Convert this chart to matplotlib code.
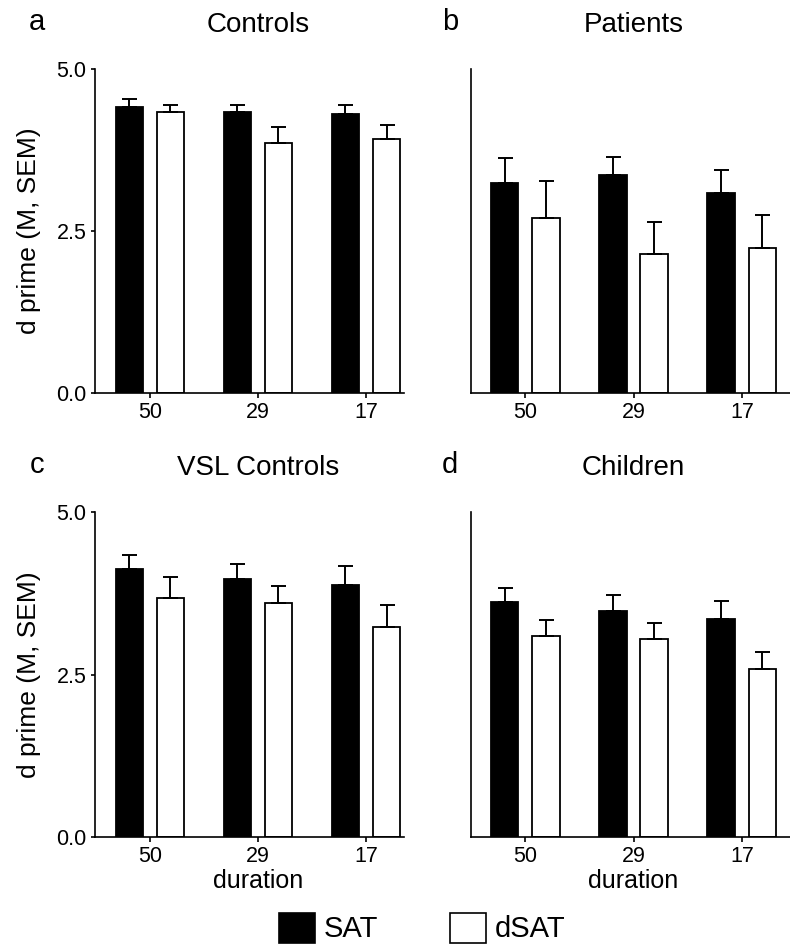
import matplotlib
matplotlib.use("Agg")
import matplotlib.pyplot as plt
import numpy as np
from matplotlib.patches import Patch

plt.rcParams['font.family'] = ['Liberation Sans', 'DejaVu Sans']

durations = ["50", "29", "17"]
series = ["SAT", "dSAT"]
panel_titles = ["Controls", "Patients", "VSL Controls", "Children"]
panel_letters = ["a", "b", "c", "d"]

controls_sat = [4.41, 4.33, 4.31]
controls_sat_sem = [0.12, 0.11, 0.13]
controls_dsat = [4.33, 3.86, 3.92]
controls_dsat_sem = [0.12, 0.24, 0.21]

patients_sat = [3.24, 3.37, 3.08]
patients_sat_sem = [0.38, 0.27, 0.36]
patients_dsat = [2.70, 2.15, 2.23]
patients_dsat_sem = [0.57, 0.49, 0.51]

vsl_sat = [4.12, 3.97, 3.88]
vsl_sat_sem = [0.22, 0.23, 0.29]
vsl_dsat = [3.68, 3.60, 3.23]
vsl_dsat_sem = [0.32, 0.26, 0.34]

children_sat = [3.61, 3.47, 3.36]
children_sat_sem = [0.22, 0.25, 0.27]
children_dsat = [3.09, 3.04, 2.58]
children_dsat_sem = [0.25, 0.25, 0.27]

data = [
    (controls_sat, controls_sat_sem, controls_dsat, controls_dsat_sem),
    (patients_sat, patients_sat_sem, patients_dsat, patients_dsat_sem),
    (vsl_sat, vsl_sat_sem, vsl_dsat, vsl_dsat_sem),
    (children_sat, children_sat_sem, children_dsat, children_dsat_sem),
]

W, H = 790, 947
fig = plt.figure(figsize=(W / 100, H / 100), dpi=100)

# axes boxes in pixels: (left, right, top, bottom)
boxes = [(95, 404, 69, 393), (471, 790, 69, 393),
         (95, 404, 512, 837), (471, 790, 512, 837)]
letter_x = [37, 450, 37, 450]

x = np.arange(len(durations))
bw = 0.255
off = 0.19
lw = 1.3
elw = 1.4

for i, (l, r, t, b) in enumerate(boxes):
    ax = fig.add_axes([l / W, 1 - b / H, (r - l) / W, (b - t) / H])
    sat, sat_e, dsat, dsat_e = data[i]
    ax.bar(x - off, sat, bw, color='black', edgecolor='black', linewidth=lw,
           yerr=[np.zeros(3), sat_e], capsize=5.4,
           error_kw=dict(ecolor='black', elinewidth=elw, capthick=elw), zorder=2)
    ax.bar(x + off, dsat, bw, color='white', edgecolor='black', linewidth=lw,
           yerr=[np.zeros(3), dsat_e], capsize=5.4,
           error_kw=dict(ecolor='black', elinewidth=elw, capthick=elw), zorder=2)
    ax.set_ylim(0, 5.0)
    if i % 2 == 0:
        ax.set_xlim(-0.509, 2.352)
    else:
        ax.set_xlim(-0.5, 2.444)
    ax.set_xticks(x)
    ax.set_xticklabels(durations, fontsize=15.5)
    for s in ['top', 'right']:
        ax.spines[s].set_visible(False)
    for s in ['left', 'bottom']:
        ax.spines[s].set_linewidth(1.2)
    ax.tick_params(axis='x', length=3.5, width=1.2, pad=3)
    if i % 2 == 0:
        ax.set_yticks([0.0, 2.5, 5.0])
        ax.set_yticklabels(["0.0", "2.5", "5.0"], fontsize=15.5)
        ax.tick_params(axis='y', length=3, width=1.2, pad=3)
        ax.set_ylabel("d prime (M, SEM)", fontsize=19, labelpad=11)
    else:
        ax.set_yticks([])
    ax.annotate(panel_titles[i], xy=(1, 1), xycoords=('data', 'axes fraction'),
                xytext=(0, 27), textcoords='offset points', ha='center',
                va='baseline', fontsize=20)
    fig.text(letter_x[i] / W, 1 - (t - 39) / H, panel_letters[i],
             ha='center', va='baseline', fontsize=21)
    if i >= 2:
        ax.annotate("duration", xy=(1, 0), xycoords=('data', 'axes fraction'),
                    xytext=(0, -23), textcoords='offset points', ha='center',
                    va='top', fontsize=18)

handles = [Patch(facecolor='black', edgecolor='black', linewidth=1.2),
           Patch(facecolor='white', edgecolor='black', linewidth=1.2)]
fig.legend(handles, series, loc='center', bbox_to_anchor=(422 / W, 1 - 928 / H),
           ncol=2, frameon=False, fontsize=21, handlelength=1.24, handleheight=1.2,
           handletextpad=0.31, columnspacing=2.45, borderaxespad=0)

fig.savefig("out.png", dpi=100)
